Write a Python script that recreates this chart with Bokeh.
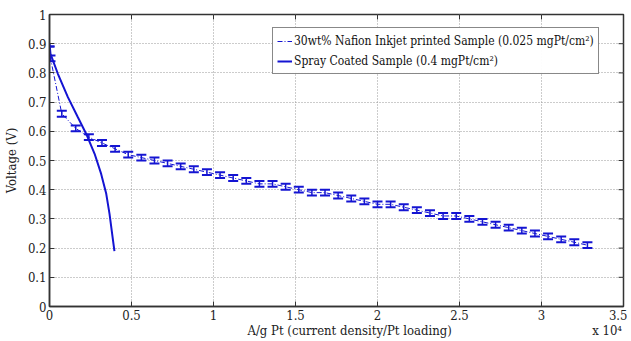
from bokeh.plotting import figure
from bokeh.models import (ColumnDataSource, Whisker, TeeHead, Legend, LegendItem,
                          FixedTicker, LinearAxis, Range1d)
from bokeh.embed import file_html
from bokeh.resources import INLINE

# Inkjet printed sample (A/g Pt, V, error)
ink_x = [0, 60, 750, 1600, 2400, 3200, 4000, 4800, 5600, 6400, 7200, 8000, 8800,
         9600, 10400, 11200, 12000, 12800, 13600, 14400, 15200, 16000, 16800,
         17600, 18400, 19200, 20000, 20800, 21600, 22400, 23200, 24000, 24800,
         25600, 26400, 27200, 28000, 28800, 29600, 30400, 31200, 32000, 32800]
ink_v = [0.89, 0.85, 0.66, 0.61, 0.58, 0.56, 0.54, 0.52, 0.51, 0.50, 0.49, 0.48, 0.47,
         0.46, 0.45, 0.44, 0.43, 0.42, 0.42, 0.41, 0.40, 0.39, 0.39,
         0.38, 0.37, 0.36, 0.35, 0.35, 0.34, 0.33, 0.32, 0.31, 0.31,
         0.30, 0.29, 0.28, 0.27, 0.26, 0.25, 0.24, 0.23, 0.22, 0.21]
ink_err = [0.0] + [0.01] * 42

# Spray coated sample
spray_x = [0, 60, 510, 1120, 1730, 2240, 2750, 3150, 3460, 3660, 3820, 3960]
spray_v = [0.90, 0.865, 0.797, 0.717, 0.648, 0.591, 0.523, 0.454, 0.386, 0.317, 0.249, 0.19]

x_ticks = [0, 5000, 10000, 15000, 20000, 25000, 30000, 35000]
x_tick_labels = ["0", "0.5", "1", "1.5", "2", "2.5", "3", "3.5"]
y_ticks = [0, 0.1, 0.2, 0.3, 0.4, 0.5, 0.6, 0.7, 0.8, 0.9, 1.0]
y_tick_labels = ["0", "0.1", "0.2", "0.3", "0.4", "0.5", "0.6", "0.7", "0.8", "0.9", "1"]
x_title = "A/g Pt (current density/Pt loading)"
x_multiplier = "x 10\u2074"
y_title = "Voltage (V)"

FONT = "DejaVu Serif Condensed"
BLUE = "#1414d2"
AX = "#333333"
TXT = "#222222"

p = figure(frame_width=574, frame_height=292, output_backend="svg", toolbar_location=None,
           x_range=Range1d(0, 35000), y_range=Range1d(0, 1),
           min_border_left=49, min_border_top=14, min_border_right=4, min_border_bottom=0)
p.background_fill_color = "white"
p.border_fill_color = "white"
p.outline_line_color = AX
p.outline_line_width = 1.5

p.xaxis.ticker = FixedTicker(ticks=x_ticks)
p.yaxis.ticker = FixedTicker(ticks=y_ticks)
p.xaxis.major_label_overrides = {t: l for t, l in zip(x_ticks, x_tick_labels)}
p.yaxis.major_label_overrides = {t: l for t, l in zip(y_ticks, y_tick_labels)}
p.yaxis.axis_label = y_title
for ax in [p.xaxis[0], p.yaxis[0]]:
    ax.major_label_text_font = FONT
    ax.major_label_text_font_size = "13px"
    ax.major_label_text_color = TXT
    ax.axis_label_text_font = FONT
    ax.axis_label_text_font_size = "13px"
    ax.axis_label_text_font_style = "normal"
    ax.axis_label_text_color = TXT
    ax.major_tick_in = 5
    ax.major_tick_out = 0
    ax.minor_tick_line_color = None
    ax.axis_line_color = AX
    ax.axis_line_width = 1.5
    ax.major_tick_line_color = AX
p.xaxis.major_label_standoff = 3
p.yaxis.major_label_standoff = 3
p.yaxis.axis_label_standoff = 6

# second row below the x axis: axis title and the x 10^4 multiplier
title_axis = LinearAxis(ticker=FixedTicker(ticks=[18300, 34000]),
                        major_label_overrides={18300: x_title, 34000: x_multiplier},
                        major_label_text_font=FONT, major_label_text_font_size="13px",
                        major_label_text_color=TXT, major_label_standoff=0,
                        axis_line_color=None, major_tick_line_color=None,
                        minor_tick_line_color=None, major_tick_in=0, major_tick_out=0)
p.add_layout(title_axis, "below")

p.grid.grid_line_color = "#999999"
p.grid.grid_line_dash = "1 2"
p.grid.grid_line_width = 1
p.xgrid.ticker = FixedTicker(ticks=x_ticks)
p.ygrid.ticker = FixedTicker(ticks=y_ticks)

# inward ticks on the top and right edges of the box
p.segment(x0=x_ticks, y0=[1.0] * len(x_ticks), x1=x_ticks, y1=[0.983] * len(x_ticks),
          line_color=AX, line_width=1)
p.segment(x0=[35000] * len(y_ticks), y0=y_ticks, x1=[34700] * len(y_ticks), y1=y_ticks,
          line_color=AX, line_width=1)

src = ColumnDataSource(dict(x=ink_x, v=ink_v,
                            up=[v + e for v, e in zip(ink_v, ink_err)],
                            lo=[v - e for v, e in zip(ink_v, ink_err)]))
r_ink = p.line("x", "v", source=src, line_color=BLUE, line_width=1, line_dash="5 2 1 2")
wh = Whisker(source=src, base="x", upper="up", lower="lo", dimension="height",
             line_color=BLUE, line_width=1.5,
             upper_head=TeeHead(size=10, line_color=BLUE, line_width=2),
             lower_head=TeeHead(size=10, line_color=BLUE, line_width=2))
p.add_layout(wh)
r_spray = p.line(spray_x, spray_v, line_color=BLUE, line_width=2)

legend = Legend(items=[
    LegendItem(label="30wt% Nafion Inkjet printed Sample (0.025 mgPt/cm\u00b2)", renderers=[r_ink]),
    LegendItem(label="Spray Coated Sample (0.4 mgPt/cm\u00b2)", renderers=[r_spray]),
], location=(223, 232))
legend.label_text_font = FONT
legend.label_text_font_size = "12px"
legend.label_text_color = "#111111"
legend.border_line_color = "#111111"
legend.border_line_width = 1
legend.glyph_width = 15
legend.glyph_height = 14
legend.label_standoff = 2
legend.label_height = 17
legend.spacing = 3
legend.padding = 4
legend.margin = 0
p.add_layout(legend, "center")

open("out.html", "w").write(file_html(p, INLINE))
